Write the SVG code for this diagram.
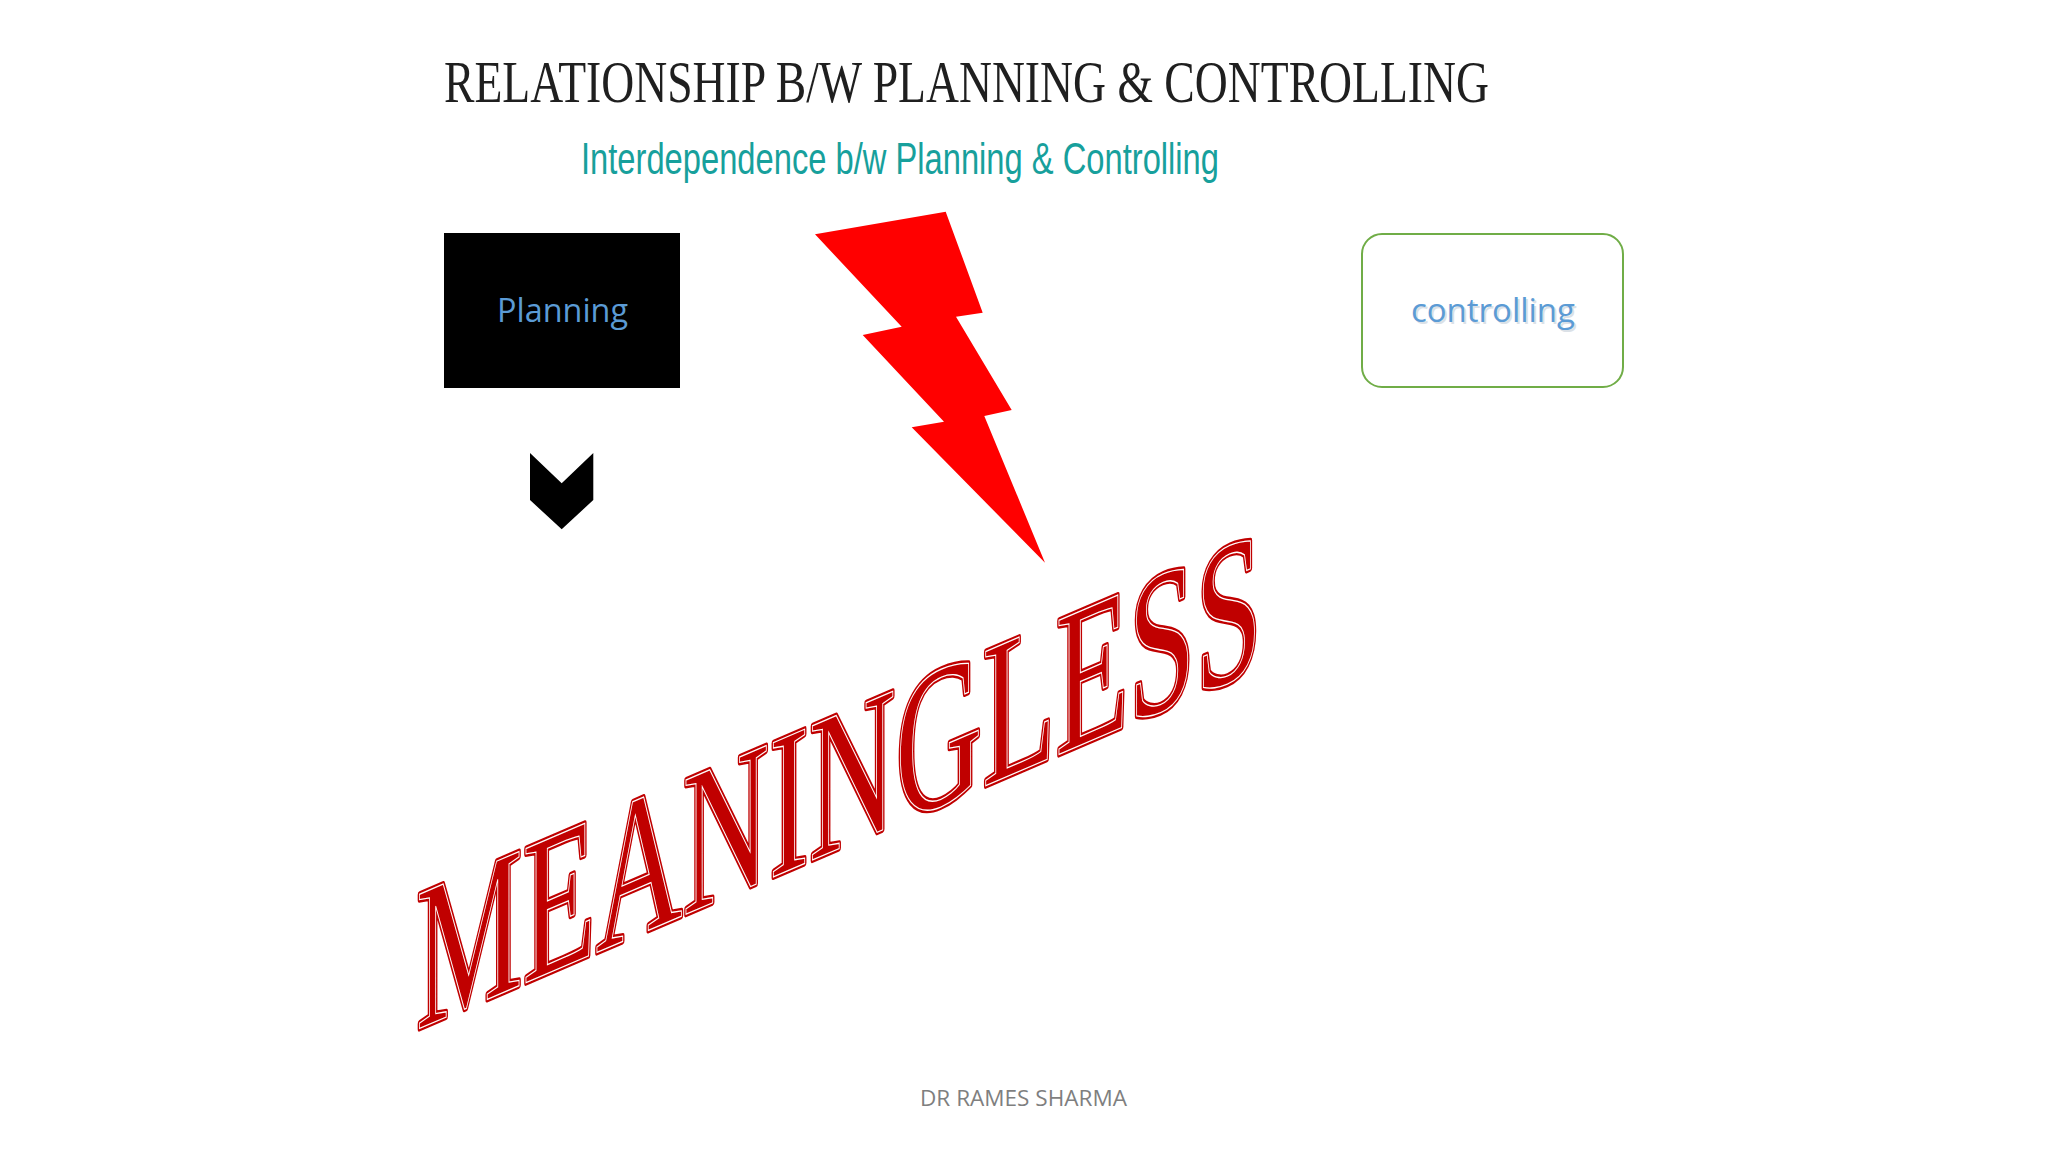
<svg xmlns="http://www.w3.org/2000/svg" width="2048" height="1152" viewBox="0 0 2048 1152">
  <style>
    .title { font-family: "Liberation Serif", "Times New Roman", serif; font-size: 60px; fill: #1f1f1f; }
    .sub { font-family: "Liberation Sans", Arial, sans-serif; font-size: 44px; fill: #17a09c; }
    .lbl { font-family: "Open Sans", "Noto Sans", sans-serif; font-size: 33px; fill: #5b9bd5; }
    .shadow { font-family: "Open Sans", "Noto Sans", sans-serif; font-size: 33px; fill: #9ab; opacity: 0.35; }
    .foot { font-family: "Open Sans", "Liberation Sans", sans-serif; font-size: 21px; fill: #7f7f7f; }
    .wa { font-family: "Liberation Serif", "Times New Roman", serif; font-size: 205px; fill: #c00000; }
  </style>
  <rect width="2048" height="1152" fill="#ffffff"/>

  <text class="title" x="444" y="102" textLength="1045" lengthAdjust="spacingAndGlyphs">RELATIONSHIP B/W PLANNING &amp; CONTROLLING</text>
  <text class="sub" x="581" y="174" textLength="638" lengthAdjust="spacingAndGlyphs">Interdependence b/w Planning &amp; Controlling</text>

  <g id="planning">
    <rect x="444" y="233" width="236" height="155" fill="#000000"/>
    <text class="lbl" x="497" y="322" textLength="131" lengthAdjust="spacingAndGlyphs">Planning</text>
  </g>

  <g id="controlling">
    <rect x="1362" y="234" width="261" height="153" rx="20" ry="20" fill="#ffffff" stroke="#70ad47" stroke-width="2"/>
    <text class="shadow" x="1413" y="324" textLength="164" lengthAdjust="spacingAndGlyphs">controlling</text>
    <text class="lbl" x="1411" y="322" textLength="164" lengthAdjust="spacingAndGlyphs">controlling</text>
  </g>

  <g id="chevron">
    <polygon points="530,453 561.7,483.3 593.3,453 593.3,500 561.7,529.3 530,500" fill="#000000"/>
  </g>

  <g id="lightning">
    <polygon points="815,234.3 945.7,211.7 982.7,312.7 956,316.7 1011.7,410 984.3,416 1045,562.7 911.7,427.3 944,421.7 862.7,335 901.7,326.7" fill="#ff0000"/>
  </g>

  <g id="meaningless" transform="translate(416,1030) skewY(-23.2)">
    <text class="wa" x="0" y="0" textLength="846" lengthAdjust="spacingAndGlyphs" stroke="#c00000" stroke-width="6" stroke-linejoin="round">MEANINGLESS</text>
    <text class="wa" x="0" y="0" textLength="846" lengthAdjust="spacingAndGlyphs" stroke="#ffffff" stroke-width="1.3">MEANINGLESS</text>
  </g>

  <g id="connectors"></g>

  <text class="foot" x="920" y="1106" textLength="207" lengthAdjust="spacingAndGlyphs">DR RAMES SHARMA</text>
</svg>
